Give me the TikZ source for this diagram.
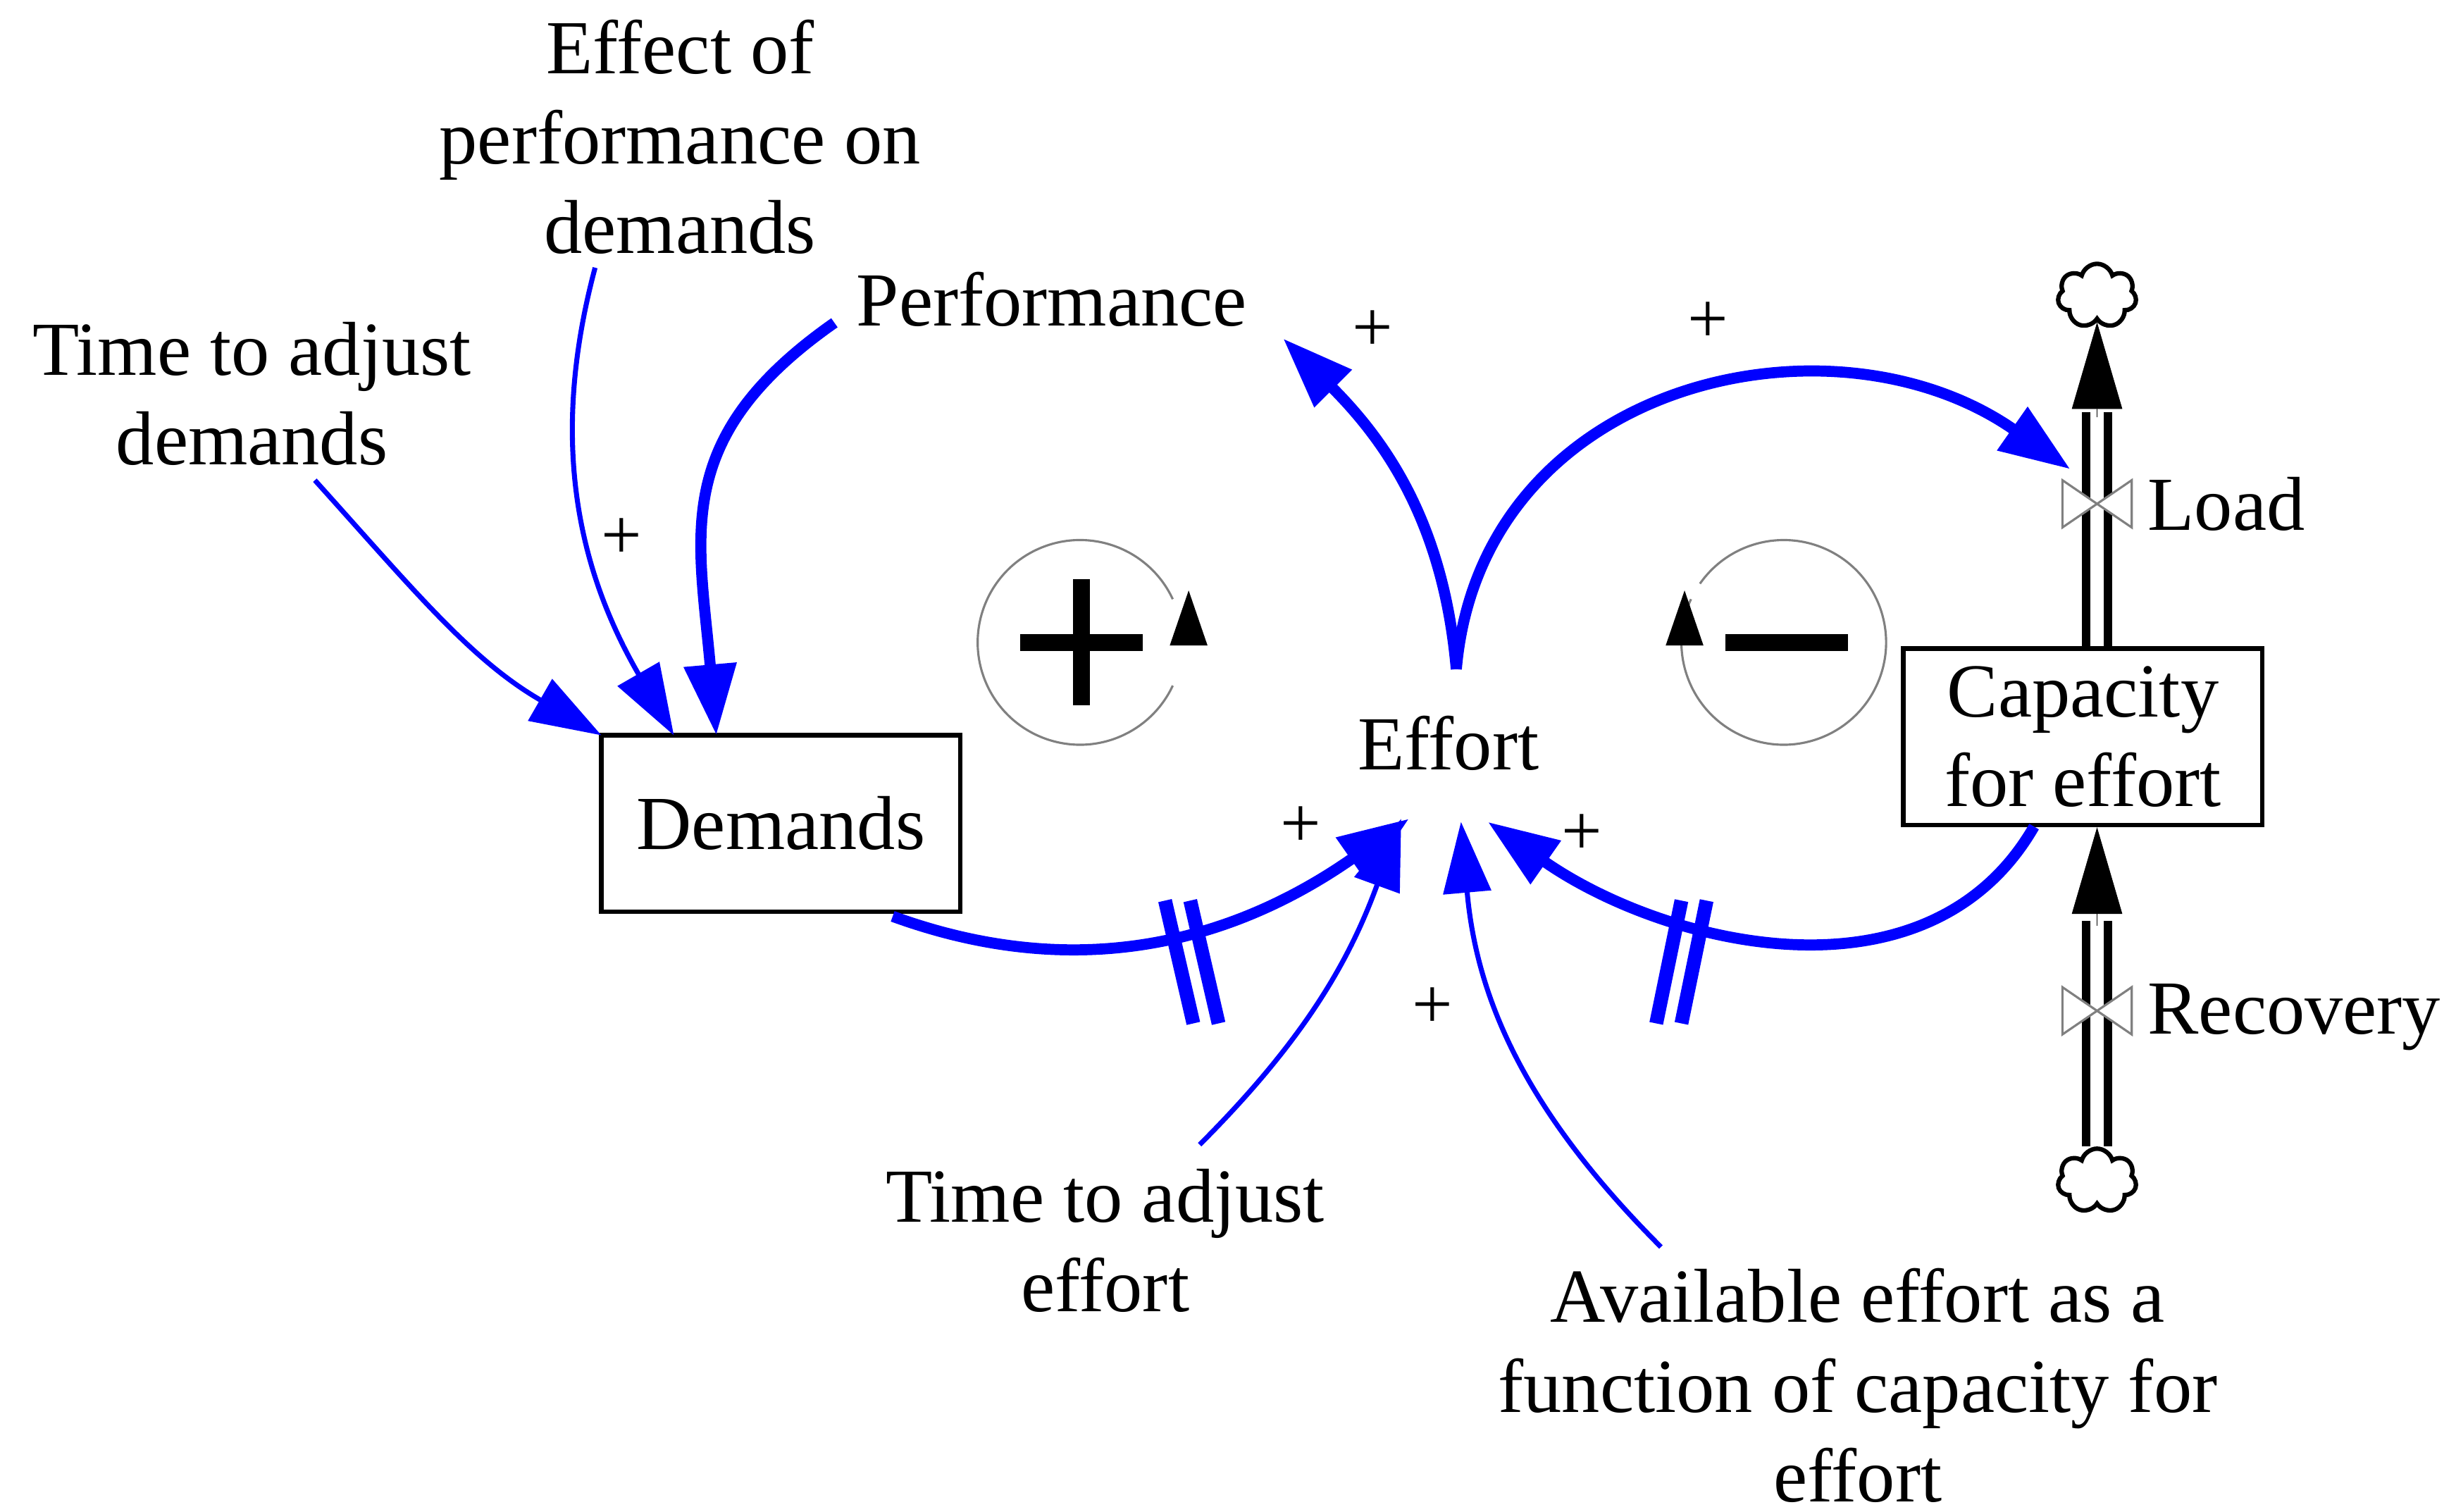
\documentclass[tikz,border=0pt]{standalone}
\usepackage{fontspec}
\setmainfont{Liberation Serif}
\usetikzlibrary{arrows.meta,shapes.symbols,calc}
\tikzset{
  lbl/.style     = {align=center, font=\fontsize{13.8}{16.2}\selectfont, inner sep=1pt},
  stock/.style   = {draw, thick, minimum width=2.28cm, minimum height=1.12cm, lbl},
  link/.style    = {blue, line width=2pt, -{Triangle[length=0.45cm,width=0.32cm]}},
  thinlink/.style= {blue, line width=0.9pt, -{Triangle[length=0.45cm,width=0.3cm]}},
  pol/.style     = {font=\fontsize{13}{13}\selectfont},
  pipe/.style    = {double, double distance=2.4pt, line width=1.5pt},
  fhead/.style   = {line width=0.1pt, -{Triangle[length=0.55cm,width=0.32cm]}},
  source/.style  = {cloud, cloud puffs=7, draw, thick, minimum width=0.5cm, minimum height=0.38cm}
}
\begin{document}
\begin{tikzpicture}[x=0.01cm, y=-0.01cm]
  \useasboundingbox (0,0) rectangle (1560,960);

  % stocks and variables
  \node[stock] (dem) at (496,523) {Demands};
  \node[stock] (cap) at (1323,468) {Capacity\\for effort};
  \node[lbl] (perf) at (668,190) {Performance};
  \node[lbl] (eff) at (920,472) {Effort};
  \node[lbl] (epd) at (432,87) {Effect of\\performance on\\demands};
  \node[lbl] (tad) at (160,250) {Time to adjust\\demands};
  \node[lbl] (tae) at (702,788) {Time to adjust\\effort};
  \node[lbl] (avl) at (1180,880) {Available effort as a\\function of capacity for\\effort};

  % flows
  \node[source] (cltop) at (1332,188) {};
  \node[source] (clbot) at (1332,750) {};
  \coordinate (vload) at (1332,320);
  \coordinate (vrec) at (1332,642);
  \draw[pipe] (cap.north -| vload) -- (1332,262);
  \draw[fhead] (1332,265) -- (cltop.south);
  \draw[pipe] (clbot.north) -- (1332,585);
  \draw[fhead] (1332,588) -- (cap.south -| vrec);
  \foreach \v in {vload,vrec}{
    \draw[gray, fill=white] ($(\v)+(-22,-15)$) -- ($(\v)+(22,15)$) -- ($(\v)+(22,-15)$) -- ($(\v)+(-22,15)$) -- cycle;
  }
  \node[lbl, anchor=west] (load) at (1360,320) {Load};
  \node[lbl, anchor=west] (rec) at (1360,646) {Recovery};

  % links
  \draw[link] (567,582) to[out=-20, in=215] (895,520);
  \draw[link] (1292,525) to[out=240, in=-35] (945,522);
  \draw[link] (925,425) to[out=95, in=-45] (815,215);
  \draw[link] (925,425) to[out=85, in=145, looseness=1.15] (1315,298);
  \draw[link] (530,205) to[out=215, in=95, looseness=1.2] (455,467);
  \draw[thinlink] (378,170) to[out=255, in=120] (428,467);
  \draw[thinlink] (200,305) to[out=-48, in=150] (382,467);
  \draw[thinlink] (762,727) to[out=45, in=-110] (890,520);
  \draw[thinlink] (1055,792) to[out=135, in=-85] (928,522);

  % delay marks
  \draw[blue, line width=2.5pt] (740,572) -- (758,650) (756,572) -- (774,650);
  \draw[blue, line width=2.5pt] (1068,572) -- (1052,650) (1084,572) -- (1068,650);

  % polarities
  \node[pol] at (872,210) {+};
  \node[pol] at (1085,205) {+};
  \node[pol] at (395,342) {+};
  \node[pol] at (826,525) {+};
  \node[pol] at (1005,530) {+};
  \node[pol] at (910,640) {+};

  % loop markers
  \draw[gray, thin] (686,408) ++(-25:65) arc[start angle=-25, end angle=-335, radius=65];
  \draw[line width=3pt] (648,408) -- (726,408) (687,368) -- (687,448);
  \fill (743,410) -- (755,375) -- (767,410) -- cycle;
  \draw[gray, thin] (1133,408) ++(205:65) arc[start angle=205, end angle=-145, radius=65];
  \draw[line width=3pt] (1096,408) -- (1174,408);
  \fill (1058,410) -- (1070,375) -- (1082,410) -- cycle;
\end{tikzpicture}
\end{document}
